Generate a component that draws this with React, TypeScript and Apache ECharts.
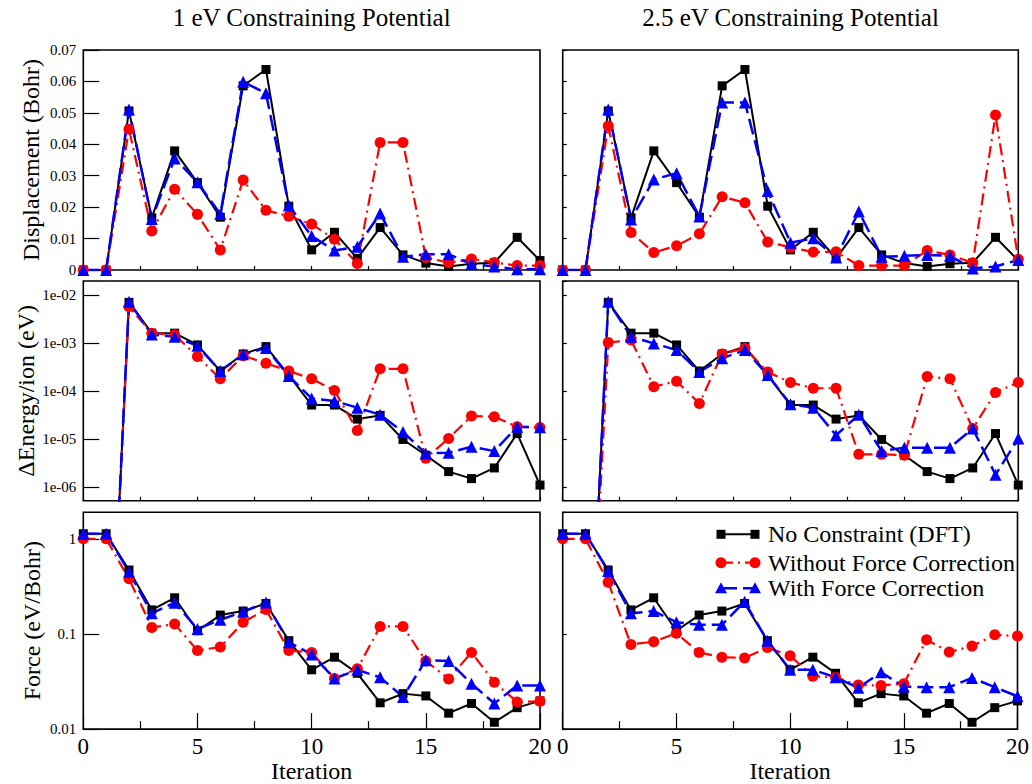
import React, { useEffect, useRef } from "react";
import * as echarts from "echarts";

const FONT = "'Liberation Serif', 'Times New Roman', serif";

const iterations = [0, 1, 2, 3, 4, 5, 6, 7, 8, 9, 10, 11, 12, 13, 14, 15, 16, 17, 18, 19, 20];

const panelTitles = ["1 eV Constraining Potential", "2.5 eV Constraining Potential"];
const seriesNames = ["No Constraint (DFT)", "Without Force Correction", "With Force Correction"];

// Displacement (Bohr)
const dftDisp = [0, 0, 0.0506, 0.0166, 0.0379, 0.0278, 0.0168, 0.0586, 0.0638, 0.0203, 0.0064, 0.012, 0.0037, 0.0135, 0.0048, 0.0022, 0.0011, 0.002, 0.0023, 0.0104, 0.003];
const noCorrDisp1 = [0, 0, 0.0448, 0.0124, 0.0257, 0.0177, 0.0064, 0.0286, 0.019, 0.0171, 0.0146, 0.0098, 0.0021, 0.0406, 0.0406, 0.004, 0.0023, 0.0035, 0.0024, 0.0014, 0.0014];
const corrDisp1 = [0, 0, 0.0511, 0.0162, 0.0355, 0.0279, 0.0178, 0.0599, 0.0562, 0.0205, 0.0108, 0.0062, 0.0074, 0.018, 0.0042, 0.005, 0.005, 0.0019, 0.0011, 0.0002, 0.0002];
const noCorrDisp25 = [0, 0, 0.0458, 0.0119, 0.0056, 0.0077, 0.0115, 0.0233, 0.0214, 0.0089, 0.0072, 0.0057, 0.0058, 0.0014, 0.0014, 0.0014, 0.0062, 0.0048, 0.0023, 0.0493, 0.0034];
const corrDisp25 = [0, 0, 0.0511, 0.0161, 0.0288, 0.0308, 0.017, 0.0533, 0.0533, 0.0251, 0.0087, 0.0101, 0.004, 0.0186, 0.0042, 0.0045, 0.0048, 0.0045, 0.0005, 0.0011, 0.0032];

// ΔEnergy/ion (eV) — iterations 0 and 1 lie far below the axis
const dftEnergy = [1e-12, 1e-12, 7.0e-3, 1.6e-3, 1.6e-3, 9.1e-4, 2.6e-4, 5.9e-4, 8.4e-4, 2.15e-4, 5.1e-5, 5.1e-5, 2.6e-5, 3.1e-5, 9.8e-6, 4.6e-6, 2.1e-6, 1.5e-6, 2.5e-6, 1.3e-5, 1.1e-6];
const noCorrEnergy1 = [1e-12, 1e-12, 5.7e-3, 1.6e-3, 1.48e-3, 5.2e-4, 1.8e-4, 5.4e-4, 3.8e-4, 2.6e-4, 1.8e-4, 1.02e-4, 1.5e-5, 2.9e-4, 2.9e-4, 4.0e-6, 1.03e-5, 3.0e-5, 2.9e-5, 1.8e-5, 1.74e-5];
const corrEnergy1 = [1e-12, 1e-12, 7.2e-3, 1.5e-3, 1.35e-3, 8.7e-4, 2.6e-4, 5.8e-4, 7.9e-4, 2.05e-4, 7.0e-5, 6.2e-5, 4.5e-5, 3.2e-5, 1.4e-5, 5.0e-6, 5.2e-6, 6.9e-6, 5.6e-6, 1.8e-5, 1.75e-5];
const noCorrEnergy25 = [1e-12, 1e-12, 1.02e-3, 1.15e-3, 1.23e-4, 1.6e-4, 5.5e-5, 5.9e-4, 7.8e-4, 2.5e-4, 1.5e-4, 1.14e-4, 1.14e-4, 4.8e-6, 4.8e-6, 4.6e-6, 2.0e-4, 1.8e-4, 1.66e-5, 9.3e-5, 1.5e-4];
const corrEnergy25 = [1e-12, 1e-12, 7.2e-3, 1.35e-3, 9.8e-4, 7.1e-4, 2.5e-4, 4.8e-4, 7.1e-4, 2.15e-4, 5.3e-5, 4.5e-5, 1.2e-5, 3.2e-5, 5.6e-6, 6.6e-6, 6.6e-6, 6.6e-6, 1.66e-5, 1.8e-6, 1.03e-5];

// Force (eV/Bohr)
const dftForce = [1.13, 1.13, 0.47, 0.179, 0.24, 0.108, 0.158, 0.174, 0.209, 0.085, 0.042, 0.057, 0.0386, 0.0189, 0.0236, 0.0223, 0.0147, 0.0186, 0.0118, 0.0168, 0.0198];
const noCorrForce1 = [1.0, 1.0, 0.38, 0.117, 0.127, 0.067, 0.073, 0.133, 0.181, 0.067, 0.064, 0.034, 0.043, 0.12, 0.12, 0.052, 0.0337, 0.064, 0.031, 0.0193, 0.0196];
const corrForce1 = [1.13, 1.13, 0.45, 0.165, 0.213, 0.113, 0.141, 0.171, 0.214, 0.082, 0.061, 0.034, 0.042, 0.035, 0.0218, 0.053, 0.052, 0.03, 0.0186, 0.0288, 0.0288];
const noCorrForce25 = [1.0, 1.0, 0.35, 0.0776, 0.083, 0.102, 0.064, 0.057, 0.056, 0.072, 0.059, 0.036, 0.035, 0.029, 0.0288, 0.03, 0.087, 0.0646, 0.0745, 0.098, 0.095];
const corrForce25 = [1.13, 1.13, 0.46, 0.165, 0.174, 0.133, 0.125, 0.125, 0.218, 0.085, 0.042, 0.042, 0.035, 0.0272, 0.0395, 0.028, 0.0276, 0.0276, 0.0345, 0.0276, 0.0221];

const panels = [
  [dftDisp, noCorrDisp1, corrDisp1],
  [dftDisp, noCorrDisp25, corrDisp25],
  [dftEnergy, noCorrEnergy1, corrEnergy1],
  [dftEnergy, noCorrEnergy25, corrEnergy25],
  [dftForce, noCorrForce1, corrForce1],
  [dftForce, noCorrForce25, corrForce25],
];

const COLS = [
  { left: 83.3, width: 456.7 },
  { left: 562.7, width: 455.6 },
];
const ROWS = [
  { top: 50, height: 220 },
  { top: 281, height: 219.7 },
  { top: 512.3, height: 220 },
];

const styles = [
  { color: "#000000", symbol: "rect", size: 9, width: 2, type: "solid" as any },
  { color: "#ff0000", symbol: "circle", size: 11, width: 2.2, type: [12, 5, 2, 5] as any },
  { color: "#0000ff", symbol: "triangle", size: 12, width: 2.5, type: [16, 6] as any },
];

function buildOption() {
  const grids: any[] = [];
  const xAxes: any[] = [];
  const yAxes: any[] = [];
  const series: any[] = [];
  const tickLine = { color: "#000", width: 1.2 };

  for (let r = 0; r < 3; r++) {
    for (let c = 0; c < 2; c++) {
      const gi = r * 2 + c;
      grids.push({
        left: COLS[c].left,
        top: ROWS[r].top,
        width: COLS[c].width,
        height: ROWS[r].height,
        show: true,
        borderColor: "#000",
        borderWidth: 1.6,
        backgroundColor: "transparent",
      });
      const bottom = r === 2;
      xAxes.push({
        type: "value",
        gridIndex: gi,
        min: 0,
        max: 20,
        interval: bottom ? 5 : 2.5,
        axisLine: { show: false },
        splitLine: { show: false },
        axisTick: { show: true, inside: true, length: bottom ? 16 : 4, lineStyle: tickLine },
        minorTick: bottom
          ? { show: true, splitNumber: 2, length: 8, lineStyle: tickLine }
          : { show: false },
        axisLabel: bottom
          ? { show: true, fontFamily: FONT, fontSize: 23, color: "#000", margin: 6 }
          : { show: false },
        name: bottom ? "Iteration" : "",
        nameLocation: "middle",
        nameGap: 29,
        nameTextStyle: { fontFamily: FONT, fontSize: 24, color: "#000" },
      });
      const left = c === 0;
      const yBase: any = {
        gridIndex: gi,
        axisLine: { show: false },
        splitLine: { show: false },
        axisTick: { show: true, inside: true, length: left ? 16 : 4, lineStyle: tickLine },
        nameLocation: "middle",
        nameTextStyle: { fontFamily: FONT, fontSize: 24, color: "#000" },
      };
      const lbl: any = { show: left, fontFamily: FONT, fontSize: 15, color: "#000", margin: 7 };
      if (r === 0) {
        yAxes.push({
          ...yBase,
          type: "value",
          min: 0,
          max: 0.07,
          interval: 0.01,
          axisLabel: lbl,
          name: left ? "Displacement (Bohr)" : "",
          nameGap: 40,
        });
      } else if (r === 1) {
        yAxes.push({
          ...yBase,
          type: "log",
          logBase: 10,
          min: 5.2e-7,
          max: 0.0195,
          axisLabel: {
            ...lbl,
            showMinLabel: false,
            showMaxLabel: false,
            formatter: (v: number) => {
              const e = Math.round(Math.log10(v));
              return "1e-" + String(-e).padStart(2, "0");
            },
          },
          name: left ? "\u0394Energy/ion (eV)" : "",
          nameGap: 45,
        });
      } else {
        yAxes.push({
          ...yBase,
          type: "log",
          logBase: 10,
          min: 0.01,
          max: 1.9,
          axisLabel: {
            ...lbl,
            showMaxLabel: false,
            formatter: (v: number) => {
              const e = Math.round(Math.log10(v));
              return e === 0 ? "1" : e === -1 ? "0.1" : e === -2 ? "0.01" : "";
            },
          },
          name: left ? "Force (eV/Bohr)" : "",
          nameGap: 39,
        });
      }
      panels[gi].forEach((vals, si) => {
        const st = styles[si];
        series.push({
          type: "line",
          name: seriesNames[si],
          xAxisIndex: gi,
          yAxisIndex: gi,
          data: vals.map((v, i) => [iterations[i], v]),
          symbol: st.symbol,
          symbolSize: st.size,
          showSymbol: true,
          clip: true,
          silent: true,
          itemStyle: { color: st.color },
          lineStyle: { color: st.color, width: st.width, type: st.type },
          emphasis: { disabled: true },
        });
      });
    }
  }

  // legend drawn in the lower-right panel
  const legendRows = [534.3, 562.7, 588.3];
  const lx0 = 721;
  const lx1 = 755;
  const legendEls: any[] = [];
  legendRows.forEach((y, si) => {
    const st = styles[si];
    legendEls.push({
      type: "line",
      shape: { x1: lx0, y1: y, x2: lx1, y2: y },
      style: {
        stroke: st.color,
        lineWidth: st.width,
        lineDash: Array.isArray(st.type) ? st.type : null,
      },
      silent: true,
    });
    [lx0, lx1].forEach((x) => {
      if (si === 0) {
        legendEls.push({ type: "rect", shape: { x: x - 4.5, y: y - 4.5, width: 9, height: 9 }, style: { fill: st.color }, silent: true });
      } else if (si === 1) {
        legendEls.push({ type: "circle", shape: { cx: x, cy: y, r: 5.5 }, style: { fill: st.color }, silent: true });
      } else {
        legendEls.push({
          type: "polygon",
          shape: { points: [[x, y - 6], [x + 6, y + 5], [x - 6, y + 5]] },
          style: { fill: st.color },
          silent: true,
        });
      }
    });
    legendEls.push({
      type: "text",
      x: 768,
      y: y,
      style: {
        text: seriesNames[si],
        font: "24px " + FONT,
        fill: "#000",
        align: "left",
        verticalAlign: "middle",
      },
      silent: true,
    });
  });

  return {
    animation: false,
    backgroundColor: "#ffffff",
    textStyle: { fontFamily: FONT },
    title: panelTitles.map((t, c) => ({
      text: t,
      left: COLS[c].left + COLS[c].width / 2,
      top: 5,
      padding: 0,
      textAlign: "center",
      textStyle: { fontFamily: FONT, fontSize: 25, fontWeight: "normal", color: "#000" },
    })),
    grid: grids,
    xAxis: xAxes,
    yAxis: yAxes,
    series,
    graphic: legendEls,
  };
}

export default function App() {
  const ref = useRef<HTMLDivElement>(null);
  useEffect(() => {
    if (!ref.current) return;
    const chart = echarts.init(ref.current, null, { renderer: "svg" });
    chart.setOption(buildOption() as any);
    return () => chart.dispose();
  }, []);
  return (
    <div
      ref={ref}
      style={{ position: "fixed", left: 0, top: 0, width: 1032, height: 784, background: "#fff" }}
    />
  );
}
